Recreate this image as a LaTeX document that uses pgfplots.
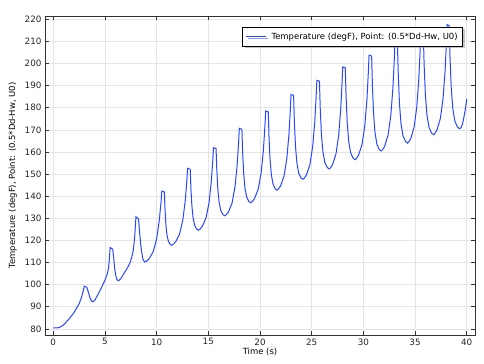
\documentclass[border=0pt]{standalone}
\usepackage{pgfplots}
\pgfplotsset{compat=1.18}
\usepackage{fontspec}
\setmainfont{DejaVu Sans}
\usetikzlibrary{shadows}
\definecolor{curve}{RGB}{40,70,255}
\begin{document}
\begin{tikzpicture}
\begin{axis}[
  at={(45bp,29bp)}, anchor=south west,
  scale only axis, width=430bp, height=319bp,
  xmin=-0.8, xmax=40.8, ymin=77.2, ymax=221.5,
  xtick={0,5,...,40}, ytick={80,90,...,220},
  tick align=inside, major tick length=4bp,
  grid=major, grid style={gray!20, line width=0.6pt},
  axis line style={black!80, line width=0.8pt},
  tick style={black!80, line width=0.6pt},
  every tick label/.append style={font=\fontsize{8.8}{10}\selectfont, text=black!85},
  /pgf/number format/assume math mode=true,
  xlabel={Time (s)}, ylabel={Temperature (degF), Point: (0.5*Dd-Hw, U0)},
  label style={font=\fontsize{8.5}{10}\selectfont},
  xlabel style={yshift=4bp},
  ylabel style={yshift=1bp},
  legend style={at={(0.972,0.9655)}, anchor=north east, draw=black, line width=0.6pt,
    fill=white, drop shadow={shadow xshift=2bp, shadow yshift=-2bp, fill=black!45},
    font=\fontsize{8.5}{10}\selectfont, inner xsep=3pt, inner ysep=3.5pt,
    /tikz/every odd column/.append style={column sep=3bp}},
  legend cell align=left,
  legend image code/.code={\draw[#1, line width=0.8pt] (0bp,0bp) -- (20bp,0bp);},
]
\addplot[curve, line width=1pt] coordinates {
(0,80.4)(0.3,80.4)(0.6,80.6)(1.0,81.8)(1.5,84.3)(2.0,87.3)(2.5,91.3)(2.75,94.5)(2.9,97.2)(3.0,99.3)(3.25,98.7)(3.4,96.5)(3.55,94.0)(3.7,92.6)(3.8,92.2)
(4.0,92.8)(4.36,95.8)(4.7,99.0)(5.0,102.0)(5.2,104.5)(5.33,107)(5.42,111)(5.5,116.8)
(5.75,116.0)(5.85,112)(5.95,107)(6.05,104)(6.15,102.3)(6.3,101.7)
(6.5,102.5)(6.94,105.8)(7.2,107.8)(7.42,109.8)(7.6,112.5)(7.74,115.6)(7.87,121)(8.0,130.7)
(8.25,129.6)(8.35,124)(8.45,118.5)(8.55,114.8)(8.68,111.3)(8.85,110.2)
(9.015,110.6)(9.26,111.6)(9.675,114.95)(10.005,120.8)(10.25,128.8)(10.42,137.1)(10.5,142.3)
(10.75,141.9)(10.806,134.55)(10.89,127.44)(10.995,122.57)(11.135,119.58)(11.31,118.21)(11.45,117.8)
(11.605,118.25)(11.84,119.33)(12.225,122.95)(12.535,129.28)(12.77,137.98)(12.92,146.96)(13.0,152.6)
(13.25,152.2)(13.314,143.78)(13.41,135.64)(13.53,130.06)(13.69,126.64)(13.89,125.07)(14.05,124.6)
(14.195,125.08)(14.41,126.24)(14.775,130.12)(15.065,136.91)(15.28,146.23)(15.43,155.86)(15.5,161.9)
(15.75,161.5)(15.818,152.23)(15.92,143.26)(16.0475,137.12)(16.2175,133.35)(16.43,131.62)(16.6,131.1)
(16.74,131.61)(16.95,132.84)(17.3,136.96)(17.58,144.17)(17.79,154.07)(17.93,164.28)(18.0,170.7)
(18.25,170.3)(18.318,160.14)(18.42,150.32)(18.5475,143.59)(18.7175,139.46)(18.93,137.57)(19.1,137.0)
(19.245,137.54)(19.4625,138.83)(19.825,143.14)(20.115,150.70)(20.3325,161.07)(20.4775,171.78)(20.55,178.5)
(20.8,178.1)(20.868,167.3)(20.97,156.86)(21.0975,149.71)(21.2675,145.32)(21.48,143.3)(21.65,142.7)
(21.785,143.26)(21.9875,144.61)(22.325,149.11)(22.595,156.99)(22.7975,167.81)(22.9325,178.99)(23.0,186.0)
(23.25,185.6)(23.322,174.01)(23.43,162.8)(23.565,155.12)(23.745,150.41)(23.97,148.25)(24.15,147.6)
(24.285,148.18)(24.4875,149.57)(24.825,154.23)(25.095,162.38)(25.2975,173.58)(25.4325,185.14)(25.5,192.4)
(25.75,192.0)(25.826,179.89)(25.94,168.18)(26.0825,160.16)(26.2725,155.24)(26.51,152.97)(26.7,152.3)
(26.83,152.9)(27.025,154.33)(27.35,159.12)(27.61,167.51)(27.805,179.04)(27.935,190.93)(28.0,198.4)
(28.25,198.0)(28.326,185.34)(28.44,173.1)(28.5825,164.72)(28.7725,159.57)(29.01,157.21)(29.2,156.5)
(29.335,157.11)(29.5375,158.58)(29.875,163.5)(30.145,172.11)(30.3475,183.93)(30.4825,196.14)(30.55,203.8)
(30.8,203.4)(30.874,190.28)(30.984,177.6)(31.122,168.91)(31.306,163.58)(31.536,161.13)(31.72,160.4)
(31.853,161.03)(32.0525,162.53)(32.385,167.56)(32.651,176.37)(32.8505,188.47)(32.9835,200.96)(33.05,208.8)
(33.3,208.4)(33.378,194.86)(33.494,181.76)(33.6395,172.79)(33.8335,167.29)(34.076,164.75)(34.27,164.0)
(34.398,164.64)(34.59,166.17)(34.91,171.31)(35.166,180.3)(35.358,192.65)(35.486,205.4)(35.55,213.4)
(35.8,213.0)(35.88,199.21)(36.0,185.88)(36.15,176.75)(36.35,171.14)(36.6,168.57)(36.8,167.8)
(36.93,168.45)(37.125,169.99)(37.45,175.17)(37.71,184.23)(37.905,196.68)(38.035,209.53)(38.1,217.6)
(38.3,217.2)(38.38,202.96)(38.5,189.18)(38.65,179.75)(38.85,173.96)(39.1,171.29)(39.3,170.5)
(39.45,171.0)(39.6,172.8)(39.75,176.3)(39.9,180.3)(40.0,184.0)
};
\addlegendentry{Temperature (degF), Point: (0.5*Dd-Hw, U0)}
\end{axis}
\useasboundingbox (0,0) rectangle (484bp,364bp);
\end{tikzpicture}
\end{document}
